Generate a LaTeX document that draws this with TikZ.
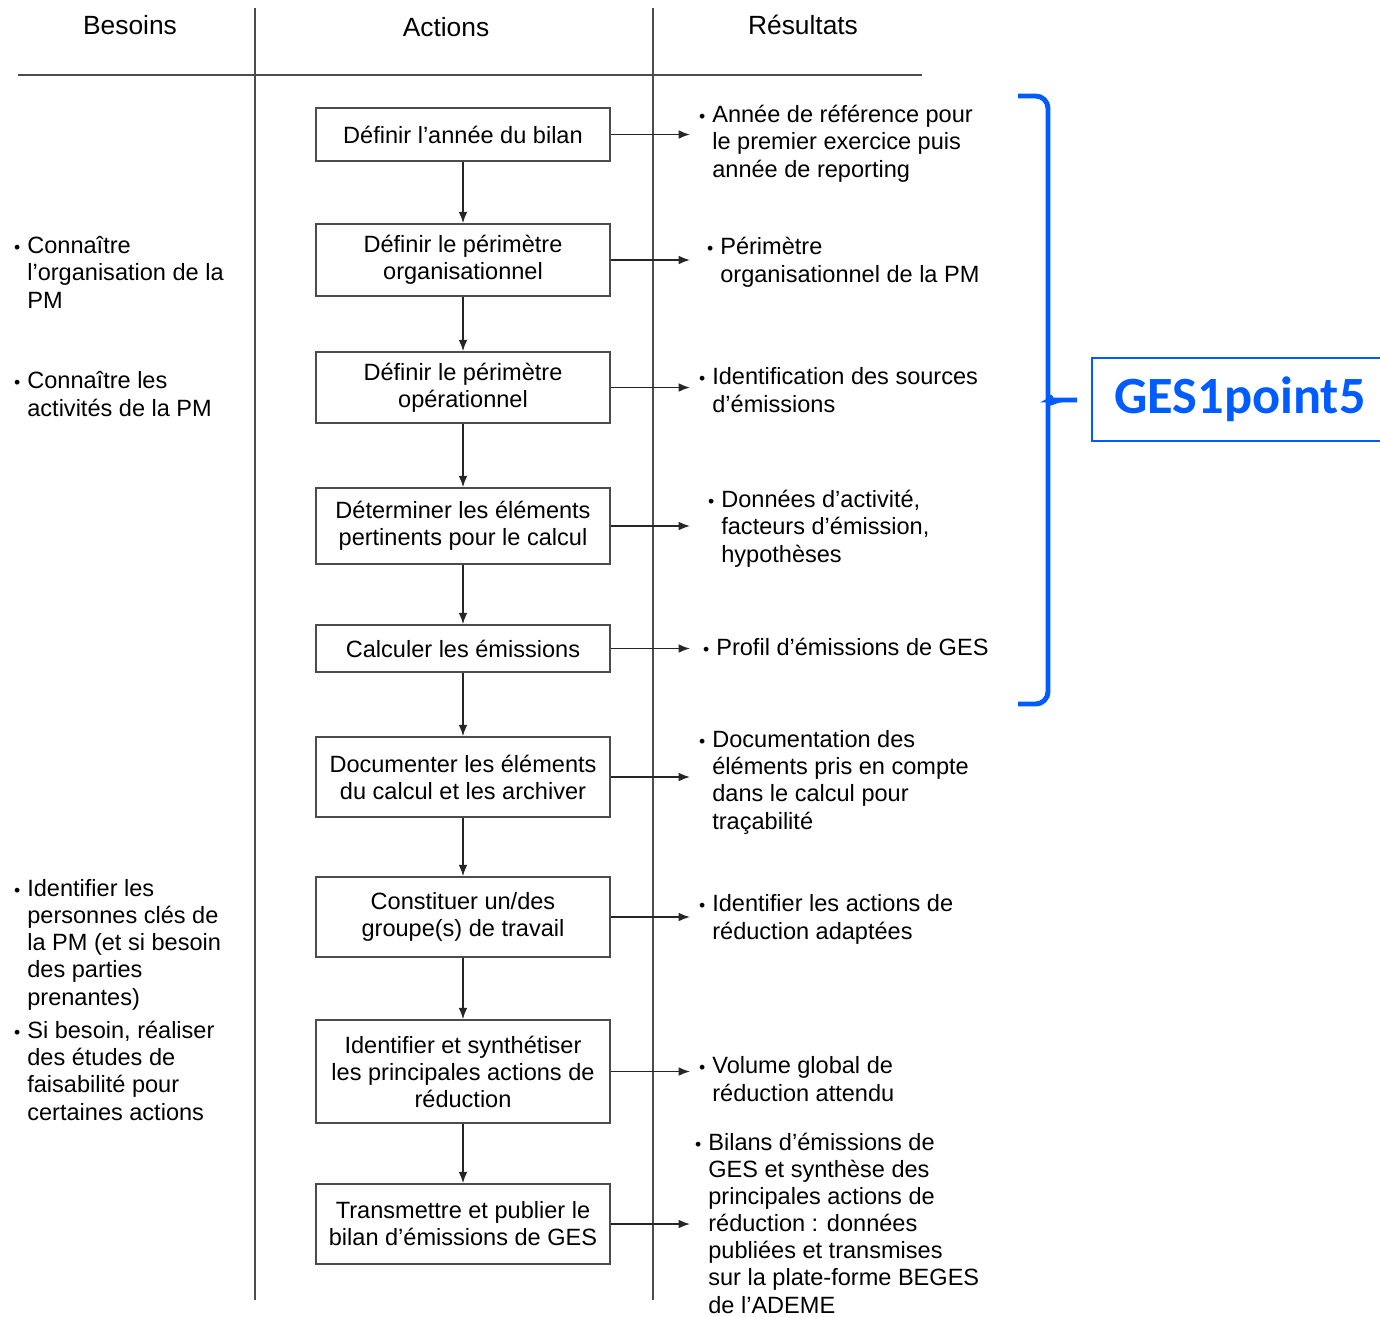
\documentclass[tikz,border=0pt]{standalone}
\usepackage{fontspec}
\setmainfont{Liberation Sans}
\newfontfamily\carlito{Carlito}
\usetikzlibrary{arrows.meta}
\definecolor{gesbleu}{RGB}{0,92,255}
\newcommand{\puce}{\llap{\scalebox{0.75}{\textbullet}\hspace{4pt}}}

\begin{document}
\begin{tikzpicture}[x=0.02cm, y=-0.02cm,
  font=\fontsize{13.4}{15.4}\selectfont,
  trait/.style={black!70, line width=1.1pt},
  boite/.style={draw=black!70, line width=0.9pt, minimum width=5.88cm, align=center, inner sep=2pt},
  fleche/.style={-{Latex[length=6.5pt,width=5pt]}, black!85, line width=0.9pt},
  texte/.style={anchor=base west, align=left, inner sep=0pt},
  titre/.style={font=\fontsize{15}{18}\selectfont}]
  \useasboundingbox (0,0) rectangle (1380,1316);
  % colonnes
  \draw[trait] (255,8) -- (255,1300);
  \draw[trait] (653,8) -- (653,1300);
  \draw[trait] (18,75) -- (922,75);
  \node[titre] (t1) at (130,25) {Besoins};
  \node[titre] (t2) at (446,27) {Actions};
  \node[titre] (t3) at (803,25) {Résultats};
  % actions
  \node[boite, minimum height=1.06cm] (b1) at (463,134.5) {Définir l’année du bilan};
  \node[boite, minimum height=1.44cm] (b2) at (463,260) {Définir le périmètre\\organisationnel};
  \node[boite, minimum height=1.42cm] (b3) at (463,387.5) {Définir le périmètre\\opérationnel};
  \node[boite, minimum height=1.52cm] (b4) at (463,526) {Déterminer les éléments\\pertinents pour le calcul};
  \node[boite, minimum height=0.94cm] (b5) at (463,648.5) {Calculer les émissions};
  \node[boite, minimum height=1.6cm] (b6) at (463,777) {Documenter les éléments\\du calcul et les archiver};
  \node[boite, minimum height=1.6cm] (b7) at (463,917) {Constituer un/des\\groupe(s) de travail};
  \node[boite, minimum height=2.06cm] (b8) at (463,1071.5) {Identifier et synthétiser\\les principales actions de\\réduction};
  \node[boite, minimum height=1.6cm] (b9) at (463,1224) {Transmettre et publier le\\bilan d’émissions de GES};
  % flèches
  \foreach \a/\b in {b1/b2,b2/b3,b3/b4,b4/b5,b5/b6,b6/b7,b7/b8,b8/b9}
    \draw[fleche] (\a) -- (\b);
  \coordinate (pointe) at (690,0);
  \foreach \a in {b1,b2,b3,b4,b5,b6,b7,b8,b9}
    \draw[fleche] (\a.east) -- (\a.east -| pointe);
  % besoins (base = dernière ligne)
  \node[texte] (n1) at (27,308) {\puce Connaître\\l’organisation de la\\PM};
  \node[texte] (n2) at (27,416) {\puce Connaître les\\activités de la PM};
  \node[texte] (n3) at (27,1005) {\puce Identifier les\\personnes clés de\\la PM (et si besoin\\des parties\\prenantes)};
  \node[texte] (n4) at (27,1120) {\puce Si besoin, réaliser\\des études de\\faisabilité pour\\certaines actions};
  % résultats
  \node[texte] (r1) at (712,177) {\puce Année de référence pour\\le premier exercice puis\\année de reporting};
  \node[texte] (r2) at (720,282) {\puce Périmètre\\organisationnel de la PM};
  \node[texte] (r3) at (712,412) {\puce Identification des sources\\d’émissions};
  \node[texte] (r4) at (721,562) {\puce Données d’activité,\\facteurs d’émission,\\hypothèses};
  \node[texte] (r5) at (716,655) {\puce Profil d’émissions de GES};
  \node[texte] (r6) at (712,829) {\puce Documentation des\\éléments pris en compte\\dans le calcul pour\\traçabilité};
  \node[texte] (r7) at (712,939) {\puce Identifier les actions de\\réduction adaptées};
  \node[texte] (r8) at (712,1101) {\puce Volume global de\\réduction attendu};
  \node[texte] (r9) at (708,1313) {\puce Bilans d’émissions de\\GES et synthèse des\\principales actions de\\réduction : données\\publiées et transmises\\sur la plate-forme BEGES\\de l’ADEME};
  % accolade
  \draw[gesbleu, line width=2.8pt, rounded corners=7pt]
    (1018,96) -- (1048,96) -- (1048,386) to[out=-90,in=180] (1062,400) -- (1077,400)
    (1062,400) to[out=180,in=90] (1048,414) -- (1048,704) -- (1018,704);
  \node[draw=gesbleu, line width=1.2pt, minimum width=5.92cm, minimum height=1.66cm,
    text=gesbleu, font=\carlito\bfseries\fontsize{29.8}{32}\selectfont] (ges) at (1240,399.5) {GES1point5};
\end{tikzpicture}
\end{document}
